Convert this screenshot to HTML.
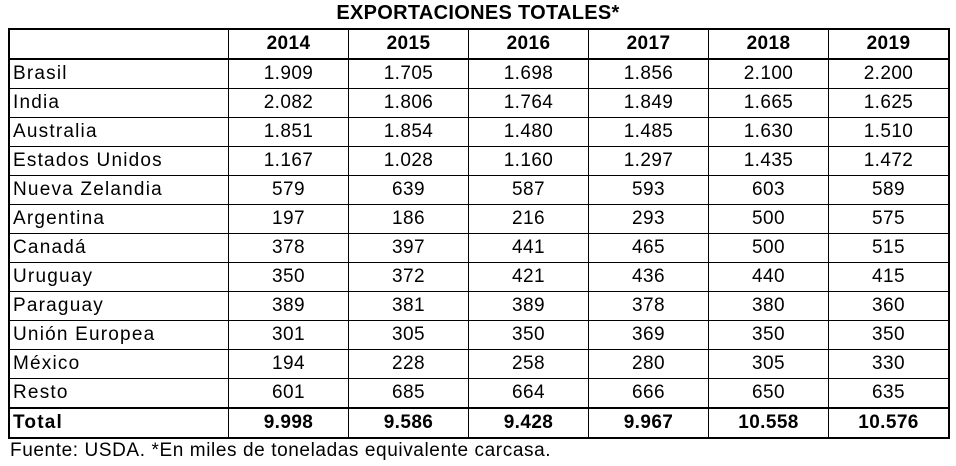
<!DOCTYPE html>
<html><head><meta charset="utf-8"><style>
body{margin:0;width:956px;height:466px;background:#fff;font-family:"Liberation Sans",sans-serif;color:#000;position:relative;overflow:hidden}
.t{position:absolute;top:2px;left:0;width:956px;text-align:center;font-weight:bold;font-size:20px;letter-spacing:0.3px}
table{position:absolute;left:8px;top:28px;border-collapse:collapse;border:2.5px solid #000;table-layout:fixed}
td{border:1px solid #000;height:28px;padding:0;font-size:19px;text-align:center;width:119px;letter-spacing:0.4px;line-height:20px}
td:first-child{width:215px;text-align:left;padding-left:3px;letter-spacing:1.2px}
tr.h td{font-weight:bold;border-bottom:2px solid #000}
tr.tot td{font-weight:bold;border-top:2.5px solid #000}
td+td{border-left:1.5px solid #000}
.f{position:absolute;left:10px;top:440px;font-size:19px;letter-spacing:0.6px}
</style></head><body>
<div class="t">EXPORTACIONES TOTALES*</div>
<table>
<tr class="h"><td></td><td>2014</td><td>2015</td><td>2016</td><td>2017</td><td>2018</td><td>2019</td></tr>
<tr><td>Brasil</td><td>1.909</td><td>1.705</td><td>1.698</td><td>1.856</td><td>2.100</td><td>2.200</td></tr>
<tr><td>India</td><td>2.082</td><td>1.806</td><td>1.764</td><td>1.849</td><td>1.665</td><td>1.625</td></tr>
<tr><td>Australia</td><td>1.851</td><td>1.854</td><td>1.480</td><td>1.485</td><td>1.630</td><td>1.510</td></tr>
<tr><td>Estados Unidos</td><td>1.167</td><td>1.028</td><td>1.160</td><td>1.297</td><td>1.435</td><td>1.472</td></tr>
<tr><td>Nueva Zelandia</td><td>579</td><td>639</td><td>587</td><td>593</td><td>603</td><td>589</td></tr>
<tr><td>Argentina</td><td>197</td><td>186</td><td>216</td><td>293</td><td>500</td><td>575</td></tr>
<tr><td>Canadá</td><td>378</td><td>397</td><td>441</td><td>465</td><td>500</td><td>515</td></tr>
<tr><td>Uruguay</td><td>350</td><td>372</td><td>421</td><td>436</td><td>440</td><td>415</td></tr>
<tr><td>Paraguay</td><td>389</td><td>381</td><td>389</td><td>378</td><td>380</td><td>360</td></tr>
<tr><td>Unión Europea</td><td>301</td><td>305</td><td>350</td><td>369</td><td>350</td><td>350</td></tr>
<tr><td>México</td><td>194</td><td>228</td><td>258</td><td>280</td><td>305</td><td>330</td></tr>
<tr><td>Resto</td><td>601</td><td>685</td><td>664</td><td>666</td><td>650</td><td>635</td></tr>
<tr class="tot"><td>Total</td><td>9.998</td><td>9.586</td><td>9.428</td><td>9.967</td><td>10.558</td><td>10.576</td></tr>
</table>
<div class="f">Fuente: USDA. *En miles de toneladas equivalente carcasa.</div>
</body></html>
